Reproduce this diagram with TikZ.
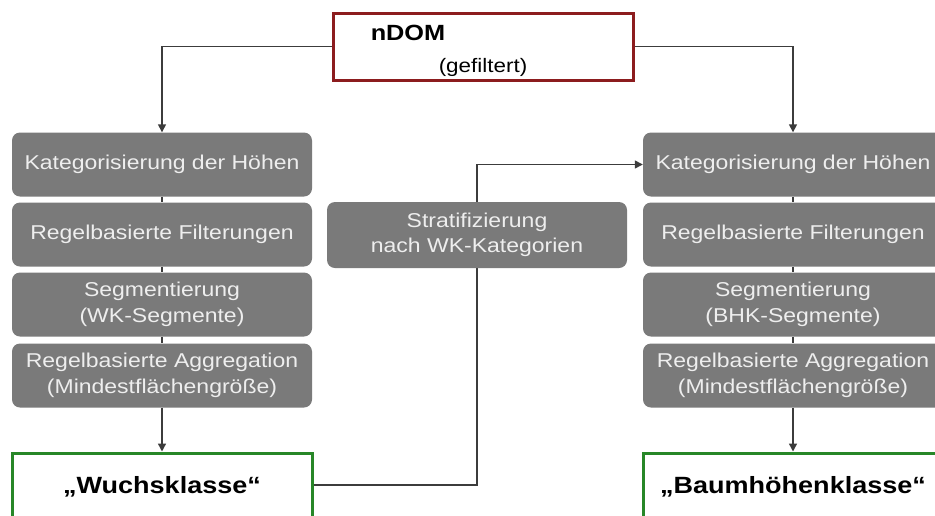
\documentclass[tikz,border=0pt]{standalone}
\usepackage{fontspec}
\setmainfont[FakeStretch=1.15]{Liberation Sans}
\usetikzlibrary{arrows.meta}
\definecolor{boxgrey}{RGB}{122,122,122}
\definecolor{boxtext}{RGB}{238,238,238}
\definecolor{linegrey}{RGB}{60,60,60}
\definecolor{darkred}{RGB}{140,28,30}
\definecolor{darkgreen}{RGB}{40,135,40}
\begin{document}
\begin{tikzpicture}[x=1pt,y=-1pt,
  stepbox/.style={fill=boxgrey, rounded corners=8pt, minimum width=300pt, minimum height=64pt,
    text=boxtext, align=center, inner sep=0pt, font=\fontsize{20}{25.5}\selectfont},
  conn/.style={draw=linegrey, line width=1.4pt},
  arr/.style={conn, -{Triangle[width=8pt,length=8pt]}},
  resultbox/.style={draw=darkgreen, line width=3pt, fill=white, minimum width=300pt, minimum height=72pt, inner sep=0pt},
  resulttext/.style={font=\bfseries\fontsize{23.5}{26}\selectfont, inner sep=0pt},
]
\clip (0,0) rectangle (935,515);
\fill[white] (0,0) rectangle (935,515);
% top box
\node[draw=darkred, line width=3pt, minimum width=300pt, minimum height=67pt, inner sep=0pt] (ndom) at (483,46.5) {};
\node[font=\bfseries\fontsize{22}{24}\selectfont, inner sep=0pt] (ndomt) at (408,33) {nDOM};
\node[font=\fontsize{19.5}{22}\selectfont, inner sep=0pt] (gef) at (483,67) {(gefiltert)};
% left column
\node[stepbox] (l1) at (162,164.5) {Kategorisierung der Höhen};
\node[stepbox] (l2) at (162,234.5) {Regelbasierte Filterungen};
\node[stepbox] (l3) at (162,304.5) {Segmentierung\\(WK-Segmente)};
\node[stepbox] (l4) at (162,375.5) {Regelbasierte Aggregation\\(Mindestflächengröße)};
\node[resultbox] (wk) at (162,489) {};
\node[resulttext] (wkt) at (162,487) {„Wuchsklasse“};
% right column
\node[stepbox] (r1) at (793,164.5) {Kategorisierung der Höhen};
\node[stepbox] (r2) at (793,234.5) {Regelbasierte Filterungen};
\node[stepbox] (r3) at (793,304.5) {Segmentierung\\(BHK-Segmente)};
\node[stepbox] (r4) at (793,375.5) {Regelbasierte Aggregation\\(Mindestflächengröße)};
\node[resultbox] (bhk) at (793,489) {};
\node[resulttext] (bhkt) at (793,487) {„Baumhöhenklasse“};
% cross connector (behind middle box)
\coordinate (c1) at (477,485);
\coordinate (c2) at (477,164.5);
\draw[arr] (wk.east |- c1) -- (c1) -- (c2) -- (r1.west);
% middle box
\node[stepbox, minimum height=66pt] (mid) at (477,235) {Stratifizierung\\nach WK-Kategorien};
% connectors
\draw[arr] (ndom.west) -| (l1.north);
\draw[arr] (ndom.east) -| (r1.north);
\foreach \a/\b in {l1/l2,l2/l3,l3/l4,r1/r2,r2/r3,r3/r4} \draw[conn] (\a.south) -- (\b.north);
\draw[arr] (l4.south) -- (wk.north);
\draw[arr] (r4.south) -- (bhk.north);
\end{tikzpicture}
\end{document}
